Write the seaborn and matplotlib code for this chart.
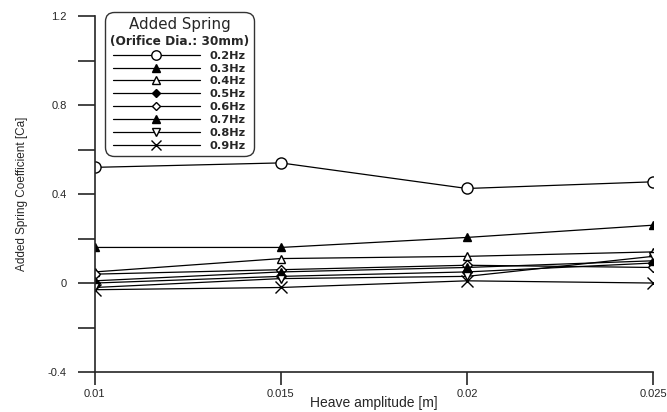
import numpy as np
import pandas as pd
import matplotlib
matplotlib.use("Agg")
import matplotlib.pyplot as plt
from matplotlib.offsetbox import TextArea
import seaborn as sns

# Heave amplitude [m]
amplitude = [0.01, 0.015, 0.02, 0.025]

# Added spring coefficient, per oscillation frequency
freqs = ["0.2Hz", "0.3Hz", "0.4Hz", "0.5Hz", "0.6Hz", "0.7Hz", "0.8Hz", "0.9Hz"]
ca_02 = [0.52, 0.54, 0.425, 0.455]
ca_03 = [0.16, 0.16, 0.205, 0.26]
ca_04 = [0.05, 0.11, 0.12, 0.14]
ca_05 = [0.0, 0.03, 0.05, 0.09]
ca_06 = [0.04, 0.06, 0.08, 0.07]
ca_07 = [0.01, 0.05, 0.07, 0.10]
ca_08 = [-0.02, 0.02, 0.03, 0.12]
ca_09 = [-0.03, -0.02, 0.01, 0.0]

series = [ca_02, ca_03, ca_04, ca_05, ca_06, ca_07, ca_08, ca_09]
df = pd.DataFrame({
    "amp": np.tile(amplitude, len(freqs)),
    "ca": np.concatenate(series),
    "freq": np.repeat(freqs, len(amplitude)),
})

sns.set_style("ticks")
plt.rcParams["font.family"] = ["Liberation Sans", "DejaVu Sans"]

fig = plt.figure(figsize=(6.67, 4.12), dpi=100)
ax = fig.add_axes([0.142, 0.097, 0.837, 0.864])

# seaborn won't mix filled and line-art markers, so 'X' stands in for 'x'
markers = {"0.2Hz": "o", "0.3Hz": "^", "0.4Hz": "^", "0.5Hz": "D",
           "0.6Hz": "D", "0.7Hz": "^", "0.8Hz": "v", "0.9Hz": "X"}
sns.lineplot(data=df, x="amp", y="ca", hue="freq", style="freq",
             palette=["black"] * len(freqs), markers=markers, dashes=False,
             markersize=6, linewidth=0.9, ax=ax, legend=False)

# open vs filled markers
open_ones = {"0.2Hz", "0.4Hz", "0.6Hz", "0.8Hz"}
handles = []
for line, f in zip(ax.get_lines(), freqs):
    line.set_markeredgecolor("black")
    line.set_markerfacecolor("white" if f in open_ones else "black")
    line.set_markeredgewidth(1.0)
    if f == "0.2Hz":
        line.set_markersize(8)
    if f in ("0.5Hz", "0.6Hz"):
        line.set_markersize(5)
    if f == "0.9Hz":
        line.set_marker("x")
        line.set_markersize(8)
    handles.append(line)

ax.set_xlim(0.01, 0.025)
ax.set_ylim(-0.4, 1.2)
ax.set_xticks(amplitude)
ax.set_xticklabels(["0.01", "0.015", "0.02", "0.025"])
ax.set_yticks([-0.4, 0, 0.4, 0.8, 1.2])
ax.set_yticklabels(["-0.4", "0", "0.4", "0.8", "1.2"])
ax.set_yticks([-0.2, 0.2, 0.6, 1.0], minor=True)
ax.tick_params(axis="y", which="both", direction="out", length=12, width=1.2,
               labelsize=8, pad=8)
ax.tick_params(axis="x", direction="out", length=9, width=1.2, labelsize=8, pad=3)
sns.despine(ax=ax)
for s in ("left", "bottom"):
    ax.spines[s].set_linewidth(1.2)
ax.spines["bottom"].set_bounds(0.01, 0.025)

ax.set_xlabel("Heave amplitude [m]", fontsize=10, labelpad=-2)
ax.set_ylabel("Added Spring Coefficient [Ca]", fontsize=8.5, labelpad=14)

leg = ax.legend(handles, freqs, title="Added Spring",
                loc="upper left", bbox_to_anchor=(0.021, 1.008), borderaxespad=0,
                prop={"family": "DejaVu Sans", "size": 8.2, "weight": "bold"},
                title_fontproperties={"family": "DejaVu Sans", "size": 10.8},
                handlelength=7.6, labelspacing=0.26, borderpad=0.3,
                handletextpad=0.9, markerscale=0.85, alignment="center",
                frameon=True, fancybox=True, edgecolor="black")
leg.get_frame().set_linewidth(1.0)
leg.get_frame().set_boxstyle("round,pad=0.1,rounding_size=0.8")

# smaller second title line under "Added Spring"
sub = TextArea("(Orifice Dia.: 30mm)",
               textprops=dict(family="DejaVu Sans", fontsize=8.7, weight="bold"))
sub.set_figure(fig)
leg._legend_box._children.insert(1, sub)

fig.savefig("out.png", dpi=100)
